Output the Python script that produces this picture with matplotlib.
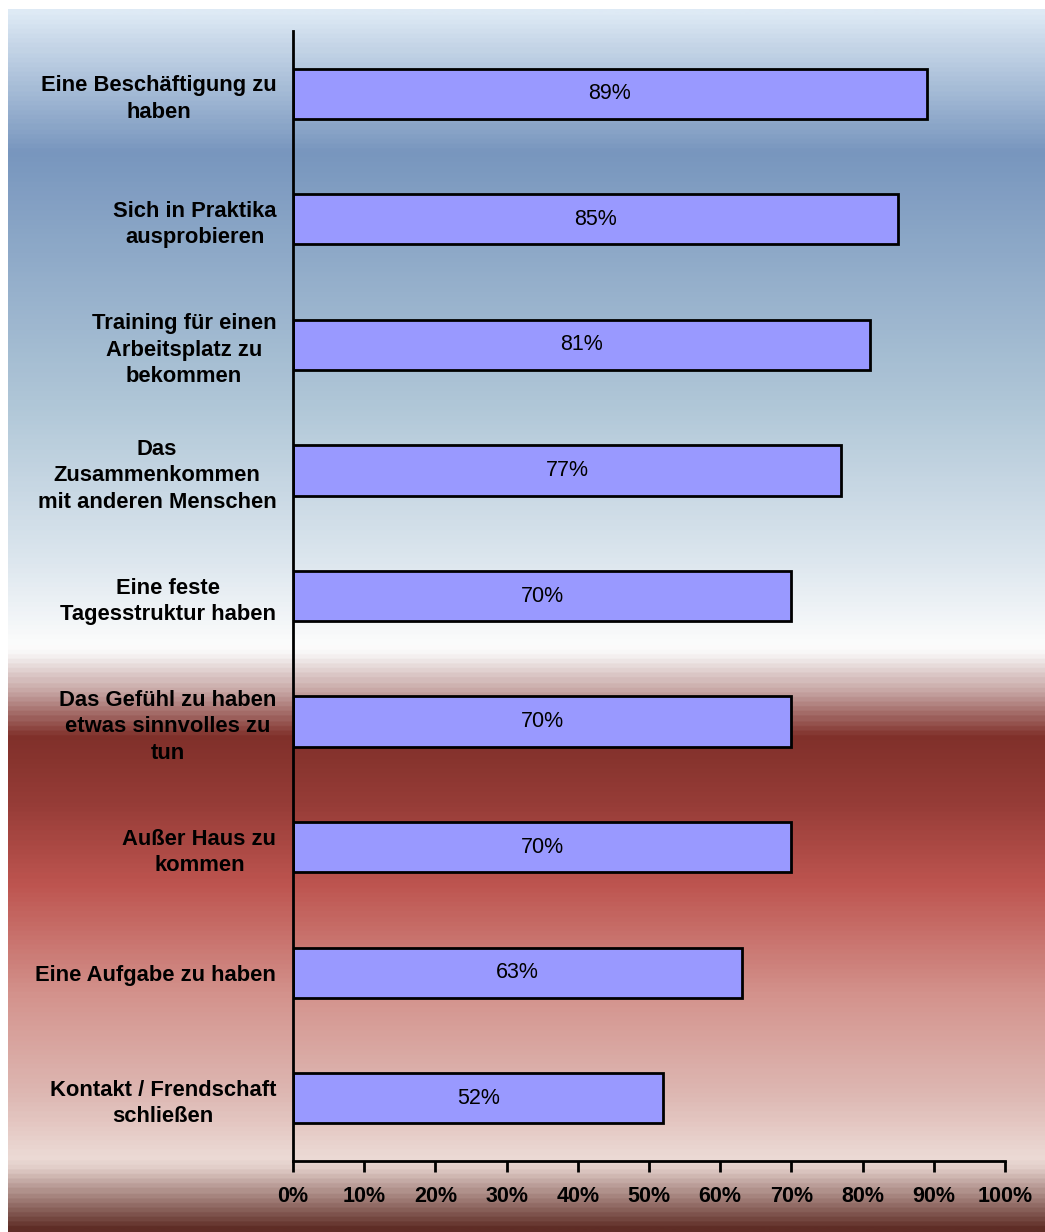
import numpy as np
import matplotlib.pyplot as plt
from matplotlib.colors import LinearSegmentedColormap

plt.rcParams['font.family'] = ['Liberation Sans', 'DejaVu Sans']

categories = ['Eine Beschäftigung zu\nhaben',
              'Sich in Praktika\nausprobieren',
              'Training für einen\nArbeitsplatz zu\nbekommen',
              'Das\nZusammenkommen\nmit anderen Menschen',
              'Eine feste\nTagesstruktur haben',
              'Das Gefühl zu haben\netwas sinnvolles zu\ntun',
              'Außer Haus zu\nkommen',
              'Eine Aufgabe zu haben',
              'Kontakt / Frendschaft\nschließen']
values = [89, 85, 81, 77, 70, 70, 70, 63, 52]
ticks = [0, 10, 20, 30, 40, 50, 60, 70, 80, 90, 100]

W, H = 1045, 1232
fig = plt.figure(figsize=(W / 100, H / 100), dpi=100)

# background gradient (top -> bottom), stops relative to the filled area
stops = [(0.000, (222, 234, 245)),
         (0.115, (120, 150, 190)),
         (0.320, (175, 198, 215)),
         (0.450, (220, 230, 238)),
         (0.520, (252, 252, 252)),
         (0.527, (248, 246, 246)),
         (0.560, (195, 160, 158)),
         (0.595, (128, 48, 42)),
         (0.650, (150, 60, 55)),
         (0.718, (190, 85, 80)),
         (0.810, (212, 148, 142)),
         (0.892, (222, 185, 180)),
         (0.941, (236, 218, 213)),
         (0.950, (225, 205, 200)),
         (1.000, (95, 45, 38))]
cmap = LinearSegmentedColormap.from_list(
    'bg', [(p, tuple(c / 255 for c in rgb)) for p, rgb in stops])
bg = fig.add_axes([8 / W, 0, 1 - 8 / W, 1 - 9 / H])
bg.imshow(np.linspace(0, 1, 800).reshape(-1, 1), cmap=cmap, aspect='auto',
          interpolation='bilinear', extent=[0, 1, 1, 0])
bg.axis('off')

ax = fig.add_axes([293 / W, 1 - 1161 / H, (1005 - 293) / W, (1161 - 31) / H])
ax.patch.set_alpha(0)
y = np.arange(len(categories))
ax.barh(y, values, height=0.4, color='#9999ff', edgecolor='black', linewidth=2)
for yi, v in zip(y, values):
    ax.text(v / 2, yi, f'{v}%', ha='center', va='center', fontsize=15.5)

ax.set_ylim(len(categories) - 0.5, -0.5)
ax.set_xlim(0, 100)
ax.set_yticks(y)
ax.set_yticklabels(categories, fontsize=15.8, fontweight='bold',
                   multialignment='center', linespacing=1.35)
ax.tick_params(axis='y', length=0, pad=12)
ax.set_xticks(ticks)
ax.set_xticklabels([f'{t}%' for t in ticks], fontsize=15.5, fontweight='bold')
ax.tick_params(axis='x', length=8, width=2, pad=10)
for s in ['top', 'right']:
    ax.spines[s].set_visible(False)
for s in ['left', 'bottom']:
    ax.spines[s].set_linewidth(2)

fig.savefig('out.png', dpi=100)
